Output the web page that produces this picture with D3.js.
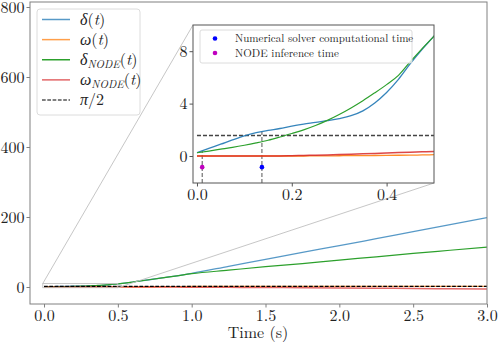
<!DOCTYPE html>
<html>
<head>
<meta charset="utf-8">
<script src="https://cdn.jsdelivr.net/npm/d3@7"></script>
<style>
  body { margin: 0; background: #fff; }
</style>
</head>
<body>
<div id="chart"></div>
<script>
// time samples (s)
var time = [0, 0.025, 0.05, 0.075, 0.1, 0.125, 0.15, 0.175, 0.2, 0.225, 0.25, 0.275, 0.3, 0.325,
  0.35, 0.375, 0.4, 0.425, 0.45, 0.475, 0.5, 0.6, 0.7, 0.8, 0.9, 1.0, 1.25, 1.5, 1.75, 2.0,
  2.25, 2.5, 2.75, 3.0];
var delta = [0.25, 0.58, 0.9, 1.23, 1.54, 1.78, 1.95, 2.1, 2.28, 2.43, 2.56, 2.7, 2.86, 3.08,
  3.45, 4.05, 4.85, 5.85, 7.05, 8.15, 9.15, 14, 20, 26, 32, 39, 59, 79, 99, 118,
  138, 158, 178, 198];
var omega = [0, 0, 0, 0, 0, 0, 0, 0, 0, 0, 0.01, 0.01, 0.02, 0.03,
  0.03, 0.04, 0.05, 0.06, 0.07, 0.08, 0.1, 0.4, 0.7, 1.0, 1.2, 1.4, 1.55, 1.6, 1.6, 1.6,
  1.6, 1.6, 1.6, 1.6];
var deltaNode = [0.25, 0.38, 0.52, 0.66, 0.82, 1.0, 1.2, 1.45, 1.72, 2.0, 2.33, 2.72, 3.17, 3.67,
  4.22, 4.82, 5.45, 6.15, 7.2, 8.2, 9.15, 14, 20, 26, 32, 38, 48, 58, 67, 77,
  86, 96, 105, 114];
var omegaNode = [0, 0, 0, 0, 0, 0, 0, 0.01, 0.02, 0.04, 0.06, 0.08, 0.11, 0.14,
  0.17, 0.2, 0.23, 0.26, 0.29, 0.32, 0.35, 0.3, 0.1, -0.1, -0.3, -0.5, -1.0, -1.5, -2.1, -2.8,
  -3.5, -4.2, -5.1, -6.0];
var halfPi = Math.PI / 2;

// computational time markers
var solverTime = 0.137, nodeTime = 0.011, markerY = -0.85;

var mainXTicks = [0, 0.5, 1.0, 1.5, 2.0, 2.5, 3.0];
var mainYTicks = [0, 200, 400, 600, 800];
var insetXTicks = [0, 0.2, 0.4];
var insetYTicks = [0, 4, 8];

// blue, orange and red were drawn semi-transparent
var series = [
  { name: "delta", values: delta, color: "#1f77b4", opacity: 0.75, width: 1.3 },
  { name: "omega", values: omega, color: "#ff7f0e", opacity: 0.75, width: 1.3 },
  { name: "deltaNode", values: deltaNode, color: "#2ca02c", opacity: 1, width: 1.2 },
  { name: "omegaNode", values: omegaNode, color: "#d62728", opacity: 0.7, width: 1.5 }
];

var FONT = "'Latin Modern Roman', 'Liberation Serif', serif";

var svgWidth = 498, svgHeight = 348;
var svg = d3.select("#chart").append("svg")
  .attr("width", svgWidth)
  .attr("height", svgHeight)
  .style("font-family", FONT);

// main axes area
var main = { left: 30, right: 487, top: 2, bottom: 304 };
var x = d3.scaleLinear().domain([-0.095, 3.0]).range([main.left, main.right]);
var y = d3.scaleLinear().domain([-48.6, 814.3]).range([main.bottom, main.top]);

// inset axes area
var ins = { left: 193, right: 434, top: 25, bottom: 183 };
var ix = d3.scaleLinear().domain([-0.0084, 0.5]).range([ins.left, ins.right]);
var iy = d3.scaleLinear().domain([-2.06, 10]).range([ins.bottom, ins.top]);

var defs = svg.append("defs");
defs.append("clipPath").attr("id", "clipMain").append("rect")
  .attr("x", main.left).attr("y", main.top)
  .attr("width", main.right - main.left).attr("height", main.bottom - main.top);
defs.append("clipPath").attr("id", "clipInset").append("rect")
  .attr("x", ins.left).attr("y", ins.top)
  .attr("width", ins.right - ins.left).attr("height", ins.bottom - ins.top);

function styleAxis(g, color, size) {
  g.attr("font-family", null);
  g.select(".domain").remove();
  g.selectAll(".tick line").attr("stroke", color);
  g.selectAll(".tick text")
    .attr("fill", "#222")
    .style("font-size", size + "px")
    .style("font-family", FONT);
}

// ---- main plot ----
var mainG = svg.append("g");

var lineMain = function(vals) {
  return d3.line()
    .x(function(d, i) { return x(time[i]); })
    .y(function(d) { return y(d); })
    .curve(d3.curveMonotoneX)(vals);
};

var mainLines = mainG.append("g").attr("clip-path", "url(#clipMain)");
series.forEach(function(s) {
  mainLines.append("path")
    .attr("d", lineMain(s.values))
    .attr("fill", "none")
    .attr("stroke", s.color)
    .attr("stroke-opacity", s.opacity)
    .attr("stroke-width", s.width);
});
mainLines.append("line")
  .attr("x1", x(0)).attr("x2", x(3.0))
  .attr("y1", y(halfPi)).attr("y2", y(halfPi))
  .attr("stroke", "#000")
  .attr("stroke-width", 1.2)
  .attr("stroke-dasharray", "3.7,1.6");

// zoom box on the main plot
mainG.append("rect")
  .attr("x", x(ix.domain()[0])).attr("y", y(iy.domain()[1]))
  .attr("width", x(ix.domain()[1]) - x(ix.domain()[0]))
  .attr("height", y(iy.domain()[0]) - y(iy.domain()[1]))
  .attr("fill", "none")
  .attr("stroke", "#c0c0c0")
  .attr("stroke-width", 0.9);

// connector lines (upper-left and lower-right corners)
mainG.append("line")
  .attr("x1", x(ix.domain()[0])).attr("y1", y(iy.domain()[1]))
  .attr("x2", ins.left).attr("y2", ins.top)
  .attr("stroke", "#c0c0c0").attr("stroke-width", 0.9);
mainG.append("line")
  .attr("x1", x(ix.domain()[1])).attr("y1", y(iy.domain()[0]))
  .attr("x2", ins.right).attr("y2", ins.bottom)
  .attr("stroke", "#c0c0c0").attr("stroke-width", 0.9);

// main spines
mainG.append("rect")
  .attr("x", main.left).attr("y", main.top)
  .attr("width", main.right - main.left).attr("height", main.bottom - main.top)
  .attr("fill", "none")
  .attr("stroke", "#808080")
  .attr("stroke-width", 1);

mainG.append("g")
  .attr("transform", "translate(0," + main.bottom + ")")
  .call(d3.axisBottom(x).tickValues(mainXTicks).tickFormat(d3.format(".1f")).tickSizeInner(3.5).tickPadding(2))
  .call(styleAxis, "#808080", 16);

mainG.append("g")
  .attr("transform", "translate(" + main.left + ",0)")
  .call(d3.axisLeft(y).tickValues(mainYTicks).tickFormat(d3.format("d")).tickSizeInner(3.5).tickPadding(2))
  .call(styleAxis, "#808080", 16);

svg.append("text")
  .attr("x", 258)
  .attr("y", 338)
  .attr("text-anchor", "middle")
  .style("font-size", "16px")
  .style("font-family", FONT)
  .attr("fill", "#222")
  .text("Time (s)");

// main legend
var legend = svg.append("g");
legend.append("rect")
  .attr("x", 37).attr("y", 9).attr("width", 103).attr("height", 106)
  .attr("rx", 3)
  .attr("fill", "#fff").attr("fill-opacity", 0.8)
  .attr("stroke", "#dcdcdc");

var legendItems = [
  { s: series[0], sym: "δ", sub: null },
  { s: series[1], sym: "ω", sub: null },
  { s: series[2], sym: "δ", sub: "NODE" },
  { s: series[3], sym: "ω", sub: "NODE" },
  { s: { color: "#000", opacity: 1, width: 1.2 }, sym: "π/2", sub: null, dashed: true }
];
var legendY = d3.scalePoint().domain(d3.range(legendItems.length)).range([19.5, 100]);
legendItems.forEach(function(item, i) {
  var ly = legendY(i);
  legend.append("line")
    .attr("x1", 42).attr("x2", 70)
    .attr("y1", ly).attr("y2", ly)
    .attr("stroke", item.s.color)
    .attr("stroke-opacity", item.s.opacity)
    .attr("stroke-width", item.dashed ? 1.2 : 1.5)
    .attr("stroke-dasharray", item.dashed ? "3.7,1.6" : null);
  var t = legend.append("text")
    .attr("x", 80).attr("y", ly + 5)
    .style("font-size", "16px")
    .style("font-family", FONT)
    .attr("fill", "#222");
  if (item.dashed) {
    t.append("tspan").style("font-style", "italic").text("π");
    t.append("tspan").text("/2");
  } else {
    t.append("tspan").style("font-style", "italic").text(item.sym);
    if (item.sub) {
      t.append("tspan").attr("dy", 3).style("font-size", "11px").style("font-style", "italic").text(item.sub);
      t.append("tspan").attr("dy", -3).text("(");
    } else {
      t.append("tspan").text("(");
    }
    t.append("tspan").style("font-style", "italic").text("t");
    t.append("tspan").text(")");
  }
});

// ---- inset ----
var insetG = svg.append("g");
insetG.append("rect")
  .attr("x", ins.left).attr("y", ins.top)
  .attr("width", ins.right - ins.left).attr("height", ins.bottom - ins.top)
  .attr("fill", "#fff");

var lineInset = function(vals) {
  return d3.line()
    .x(function(d, i) { return ix(time[i]); })
    .y(function(d) { return iy(d); })
    .curve(d3.curveMonotoneX)(vals);
};

var insLines = insetG.append("g").attr("clip-path", "url(#clipInset)");

// pi/2 reference
insLines.append("line")
  .attr("x1", ix(0)).attr("x2", ins.right)
  .attr("y1", iy(halfPi)).attr("y2", iy(halfPi))
  .attr("stroke", "#444")
  .attr("stroke-width", 1.4)
  .attr("stroke-dasharray", "4,2");

// vertical dashed markers
function deltaAt(t) {
  var i = d3.bisectLeft(time, t);
  var t0 = time[i - 1], t1 = time[i];
  return delta[i - 1] + (delta[i] - delta[i - 1]) * (t - t0) / (t1 - t0);
}
[nodeTime, solverTime].forEach(function(t) {
  insLines.append("line")
    .attr("x1", ix(t)).attr("x2", ix(t))
    .attr("y1", ins.bottom).attr("y2", iy(deltaAt(t)))
    .attr("stroke", "#555")
    .attr("stroke-width", 1)
    .attr("stroke-dasharray", "4,2");
});

series.forEach(function(s) {
  insLines.append("path")
    .attr("d", lineInset(s.values))
    .attr("fill", "none")
    .attr("stroke", s.color)
    .attr("stroke-opacity", Math.min(1, s.opacity + 0.15))
    .attr("stroke-width", s.width);
});

insLines.append("circle").attr("cx", ix(solverTime)).attr("cy", iy(markerY)).attr("r", 2.3).attr("fill", "#0000ff");
insLines.append("circle").attr("cx", ix(nodeTime)).attr("cy", iy(markerY)).attr("r", 2.3).attr("fill", "#bf00bf");

insetG.append("rect")
  .attr("x", ins.left).attr("y", ins.top)
  .attr("width", ins.right - ins.left).attr("height", ins.bottom - ins.top)
  .attr("fill", "none")
  .attr("stroke", "#555")
  .attr("stroke-width", 1);

insetG.append("g")
  .attr("transform", "translate(0," + ins.bottom + ")")
  .call(d3.axisBottom(ix).tickValues(insetXTicks).tickFormat(d3.format(".1f")).tickSizeInner(3.5).tickPadding(2))
  .call(styleAxis, "#555", 16);

insetG.append("g")
  .attr("transform", "translate(" + ins.left + ",0)")
  .call(d3.axisLeft(iy).tickValues(insetYTicks).tickFormat(d3.format("d")).tickSizeInner(3.5).tickPadding(2))
  .call(styleAxis, "#555", 16);

// inset legend
var iLegend = insetG.append("g");
iLegend.append("rect")
  .attr("x", 200).attr("y", 30).attr("width", 212).attr("height", 33)
  .attr("rx", 2)
  .attr("fill", "#fff").attr("fill-opacity", 0.8)
  .attr("stroke", "#dcdcdc");
[
  { color: "#0000ff", label: "Numerical solver computational time", ly: 38.5 },
  { color: "#bf00bf", label: "NODE inference time", ly: 53 }
].forEach(function(d) {
  iLegend.append("circle").attr("cx", 215).attr("cy", d.ly).attr("r", 2.3).attr("fill", d.color);
  iLegend.append("text")
    .attr("x", 235).attr("y", d.ly + 3.5)
    .style("font-size", "11px")
    .style("font-family", FONT)
    .attr("fill", "#222")
    .text(d.label);
});
</script>
</body>
</html>
